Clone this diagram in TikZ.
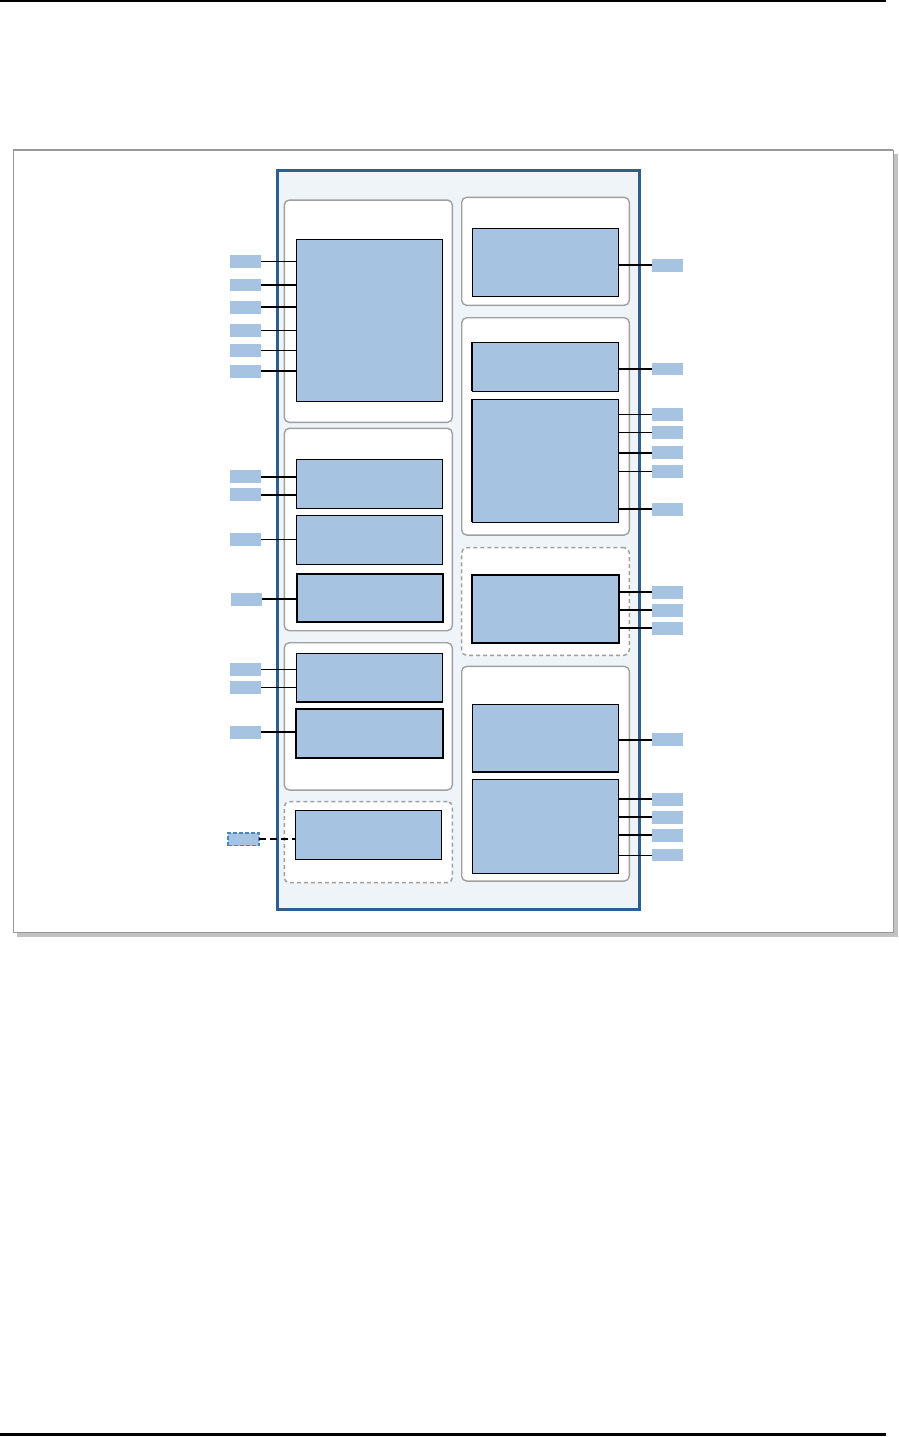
\documentclass[tikz,border=0pt]{standalone}
\usepackage{tikz}
\usetikzlibrary{positioning}
\definecolor{chipBlue}{HTML}{2E5E8E}
\definecolor{chipFill}{HTML}{EFF4F9}
\definecolor{blockBlue}{HTML}{A6C4E2}
\definecolor{pinDash}{HTML}{4A84C6}
\definecolor{panelGray}{HTML}{A0A0A0}
\definecolor{frameGray}{HTML}{999999}
\definecolor{shadowGray}{HTML}{C2C2C2}

\begin{document}
\begin{tikzpicture}[
  x=1pt, y=-1pt,
  panelBox/.style={draw=panelGray, line width=1.4pt, fill=white, rounded corners=5pt, inner sep=0pt, outer sep=0pt, minimum width=168pt},
  dashPanel/.style={panelBox, line width=1.5pt, dashed, dash pattern=on 4pt off 3pt},
  blockBox/.style={draw=black, line width=1pt, fill=blockBlue, inner sep=0pt, outer sep=0pt, minimum width=146.4pt},
  heavyBlock/.style={blockBox, line width=2pt},
  pinBox/.style={fill=blockBlue, inner sep=0pt, outer sep=0pt, minimum width=31pt, minimum height=12.7pt},
  dashPin/.style={pinBox, draw=pinDash, line width=1.7pt, dashed, dash pattern=on 4pt off 2pt},
  thinWire/.style={draw=black, line width=1pt},
  thickWire/.style={draw=black, line width=2.3pt}
]
\useasboundingbox (0,0) rectangle (899,1437);

% page rules
\draw[line width=1.3pt] (0,1) -- (886,1);
\draw[line width=3pt] (0,1434.5) -- (886,1434.5);

% frame with shadow
\fill[shadowGray] (17,154) rectangle (898,936.5);
\node[draw=frameGray, line width=1pt, fill=white, inner sep=0pt, outer sep=0pt,
  minimum width=880pt, minimum height=782pt] (frame) at (453,541) {};
\draw[frameGray, line width=2.2pt] (frame.north west) -- (frame.north east);

% chip outline
\node[draw=chipBlue, line width=3pt, fill=chipFill, inner sep=0pt, outer sep=0pt,
  minimum width=361.5pt, minimum height=738.5pt] (chip) at (458.25,539.75) {};

% left column panels
\node[panelBox, minimum height=222.3pt] (panelA) at (368.3,311.2) {};
\node[panelBox, minimum height=202.4pt] (panelB) at (368.3,529.5) {};
\node[panelBox, minimum height=147.3pt] (panelC) at (368.3,716.4) {};
\node[dashPanel, minimum height=81pt] (panelD) at (368.3,842.2) {};

% right column panels
\node[panelBox, minimum width=167.6pt, minimum height=108pt] (panelE) at (545.5,251.3) {};
\node[panelBox, minimum width=167.6pt, minimum height=217.3pt] (panelF) at (545.5,426.4) {};
\node[dashPanel, minimum width=167.6pt, minimum height=107.6pt] (panelG) at (545.5,601.5) {};
\node[panelBox, minimum width=167.6pt, minimum height=214.7pt] (panelH) at (545.5,773.7) {};

% left blocks
\node[blockBox, minimum height=162.3pt] (blkA) at (369.5,320.2) {};
\node[blockBox, minimum height=49pt] (blkB1) at (369.5,483.8) {};
\node[blockBox, minimum height=49pt] (blkB2) at (369.5,539.8) {};
\node[heavyBlock, minimum width=146pt, minimum height=48.6pt] (blkB3) at (370,598) {};
\node[blockBox, minimum height=48.7pt] (blkC1) at (369.5,677.7) {};
\node[heavyBlock, minimum height=49.3pt] (blkC2) at (369.5,733.4) {};
\node[blockBox, minimum height=49pt] (blkD) at (368.5,834.8) {};
\draw[line width=2pt] (blkC1.south west) -- (blkC1.south east);

% right blocks
\node[blockBox, minimum height=68.4pt] (blkE) at (545.5,262.5) {};
\node[blockBox, minimum height=49pt] (blkF1) at (545.5,366.8) {};
\node[blockBox, minimum height=123.3pt] (blkF2) at (545.5,460.7) {};
\node[heavyBlock, minimum height=68.3pt] (blkG) at (545.5,608.9) {};
\node[blockBox, minimum height=68pt] (blkH1) at (545.5,738) {};
\node[blockBox, minimum height=94pt] (blkH2) at (545.5,826.3) {};
\draw[line width=2pt] (blkF1.north west) -- (blkF1.south west);
\draw[line width=2pt] (blkF2.north west) -- (blkF2.south west);
\draw[line width=2pt] (blkH1.south west) -- (blkH1.south east);

% left pins
\foreach \py/\wire [count=\i] in {261.5/thinWire, 285/thickWire, 307.3/thickWire, 330.3/thinWire, 350.3/thinWire, 371.3/thickWire}{
  \node[pinBox] (pinA\i) at (245.5,\py) {};
  \draw[\wire] (pinA\i.east) -- (pinA\i.east -| blkA.west);
}
\foreach \py/\wire [count=\i] in {476.8/thickWire, 494.8/thickWire}{
  \node[pinBox] (pinB\i) at (245.5,\py) {};
  \draw[\wire] (pinB\i.east) -- (pinB\i.east -| blkB1.west);
}
\node[pinBox] (pinB3) at (245.5,539.8) {};
\draw[thinWire] (pinB3.east) -- (pinB3.east -| blkB2.west);
\node[pinBox] (pinB4) at (246,599.3) {};
\draw[thickWire] (pinB4.east) -- (pinB4.east -| blkB3.west);
\foreach \py/\wire [count=\i] in {669.3/thinWire, 687.3/thinWire}{
  \node[pinBox] (pinC\i) at (245.5,\py) {};
  \draw[\wire] (pinC\i.east) -- (pinC\i.east -| blkC1.west);
}
\node[pinBox] (pinC3) at (245.5,732.3) {};
\draw[thickWire] (pinC3.east) -- (pinC3.east -| blkC2.west);
\node[dashPin] (pinD) at (243.8,839.2) {};
\draw[thickWire, dashed, dash pattern=on 7pt off 4pt] (pinD.east) -- (pinD.east -| blkD.west);

% right pins
\node[pinBox] (pinE) at (667.3,265.3) {};
\draw[thickWire] (pinE.west) -- (pinE.west -| blkE.east);
\node[pinBox] (pinF1) at (667.3,369) {};
\draw[thickWire] (pinF1.west) -- (pinF1.west -| blkF1.east);
\foreach \py/\wire [count=\i from 2] in {414.8/thinWire, 432.8/thinWire, 452.8/thickWire, 471.3/thinWire, 509.3/thickWire}{
  \node[pinBox] (pinF\i) at (667.3,\py) {};
  \draw[\wire] (pinF\i.west) -- (pinF\i.west -| blkF2.east);
}
\foreach \py/\wire [count=\i] in {592.3/thickWire, 610.3/thickWire, 628.3/thickWire}{
  \node[pinBox] (pinG\i) at (667.3,\py) {};
  \draw[\wire] (pinG\i.west) -- (pinG\i.west -| blkG.east);
}
\node[pinBox] (pinH1) at (667.3,739.8) {};
\draw[thickWire] (pinH1.west) -- (pinH1.west -| blkH1.east);
\foreach \py/\wire [count=\i from 2] in {799.3/thickWire, 817.3/thickWire, 835.3/thickWire, 855/thinWire}{
  \node[pinBox] (pinH\i) at (667.3,\py) {};
  \draw[\wire] (pinH\i.west) -- (pinH\i.west -| blkH2.east);
}
\end{tikzpicture}
\end{document}
